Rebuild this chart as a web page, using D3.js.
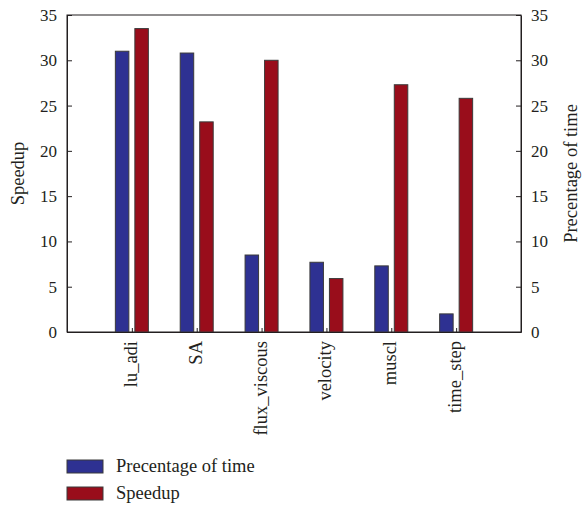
<!DOCTYPE html>
<html>
<head>
<meta charset="utf-8">
<script src="https://cdn.jsdelivr.net/npm/d3@7"></script>
<style>
  body { margin: 0; background: #fff; }
  svg text { font-family: 'Liberation Serif', 'Times New Roman', 'DejaVu Serif', serif; fill: #231f20; }
</style>
</head>
<body>
<svg id="chart" width="582" height="508"></svg>
<script>
"use strict";

var categories = ["lu_adi", "SA", "flux_viscous", "velocity", "muscl", "time_step"];
var percentTime = [31.0, 30.8, 8.5, 7.7, 7.3, 2.0];
var speedup = [33.5, 23.2, 30.0, 5.9, 27.3, 25.8];
var yTicks = [0, 5, 10, 15, 20, 25, 30, 35];
var seriesNames = ["Precentage of time", "Speedup"];
var seriesColors = ["#2e3192", "#990d1b"];

var svg = d3.select("#chart");
var plotL = 67, plotR = 521, plotT = 15, plotB = 332;
var serif = "'Liberation Serif', 'Times New Roman', 'DejaVu Serif', serif";

var x = d3.scalePoint()
    .domain(categories)
    .range([plotL, plotR])
    .padding(1);

var y = d3.scaleLinear()
    .domain([0, 35])
    .range([plotB, plotT]);

var barW = 13.5, gap = 6;

// frame
svg.append("rect")
    .attr("x", plotL).attr("y", plotT)
    .attr("width", plotR - plotL).attr("height", plotB - plotT)
    .attr("fill", "none").attr("stroke", "#231f20").attr("stroke-width", 1);

// bars
var series = [percentTime, speedup];
series.forEach(function (vals, s) {
    svg.append("g").selectAll("rect")
        .data(vals)
        .enter()
        .append("rect")
        .attr("x", function (d, i) {
            return s === 0 ? x(categories[i]) - gap / 2 - barW : x(categories[i]) + gap / 2;
        })
        .attr("y", function (d) { return y(d); })
        .attr("width", barW)
        .attr("height", function (d) { return y(0) - y(d); })
        .attr("fill", seriesColors[s])
        .attr("stroke", "#3a3a3a")
        .attr("stroke-width", 1);
});

// axes
var leftAxis = d3.axisLeft(y).tickValues(yTicks).tickSizeInner(-5).tickSizeOuter(0).tickPadding(10);
var rightAxis = d3.axisRight(y).tickValues(yTicks).tickSizeInner(-5).tickSizeOuter(0).tickPadding(10);
var bottomAxis = d3.axisBottom(x).tickSizeInner(-4).tickSizeOuter(0).tickFormat("");

function styleAxis(g) {
    g.attr("font-family", null).attr("font-size", null);
    g.select(".domain").attr("stroke", "#231f20");
    g.selectAll(".tick line").attr("stroke", "#231f20");
    g.selectAll("text").style("font-family", serif).style("font-size", "17px").attr("fill", "#231f20");
}

svg.append("g").attr("transform", "translate(" + plotL + ",0)").call(leftAxis).call(styleAxis);
svg.append("g").attr("transform", "translate(" + plotR + ",0)").call(rightAxis).call(styleAxis);
svg.append("g").attr("transform", "translate(0," + plotB + ")").call(bottomAxis).call(styleAxis);

// category labels, rotated
svg.append("g").selectAll("text")
    .data(categories)
    .enter()
    .append("text")
    .attr("transform", function (d) { return "translate(" + (x(d) + 5) + "," + (plotB + 9) + ") rotate(-90)"; })
    .attr("text-anchor", "end")
    .style("font-size", "18.5px")
    .text(function (d) { return d; });

// axis titles
svg.append("text")
    .attr("transform", "translate(24," + ((plotT + plotB) / 2) + ") rotate(-90)")
    .attr("text-anchor", "middle")
    .style("font-size", "18.5px")
    .text("Speedup");

svg.append("text")
    .attr("transform", "translate(577," + ((plotT + plotB) / 2) + ") rotate(-90)")
    .attr("text-anchor", "middle")
    .style("font-size", "18.5px")
    .text("Precentage of time");

// legend
var legend = svg.append("g").selectAll("g")
    .data(seriesNames)
    .enter()
    .append("g")
    .attr("transform", function (d, i) { return "translate(67," + (460 + i * 27) + ")"; });

legend.append("rect")
    .attr("width", 36).attr("height", 13)
    .attr("fill", function (d, i) { return seriesColors[i]; })
    .attr("stroke", "#3a3a3a");

legend.append("text")
    .attr("x", 49).attr("y", 12)
    .style("font-size", "18.5px")
    .text(function (d) { return d; });
</script>
</body>
</html>
